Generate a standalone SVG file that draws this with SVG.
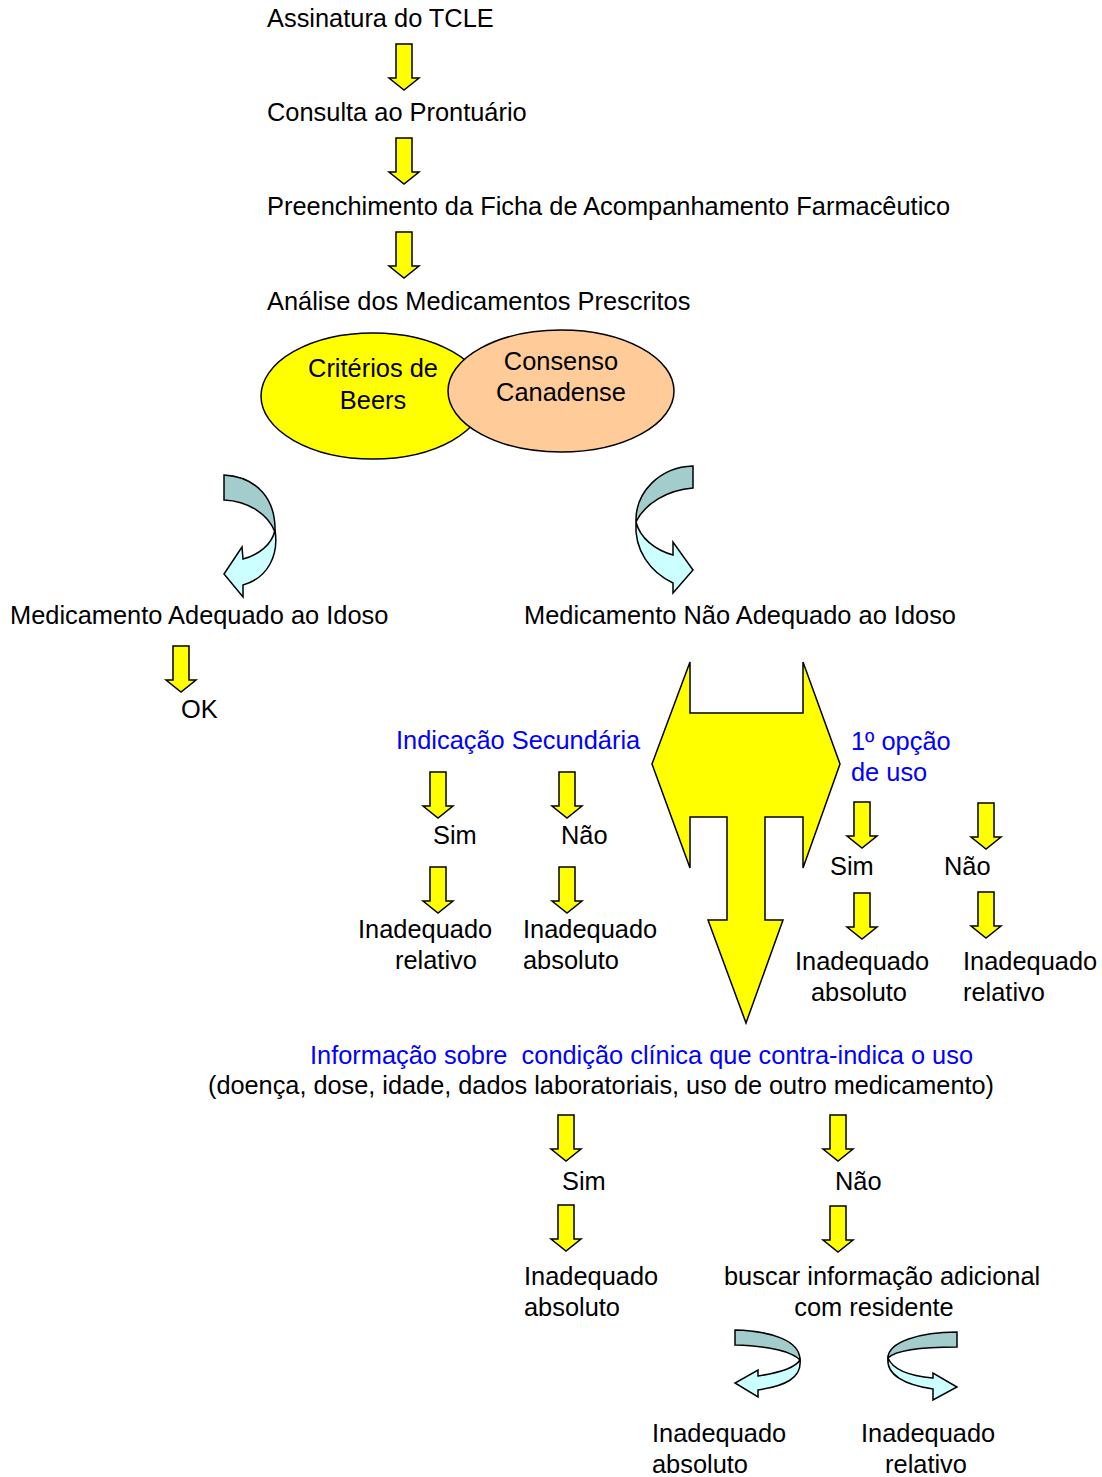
<svg xmlns="http://www.w3.org/2000/svg" xmlns:xlink="http://www.w3.org/1999/xlink" width="1102" height="1477" viewBox="0 0 1102 1477">
<style>
text{font-family:"Liberation Sans",Arial,sans-serif;font-size:25.4px;fill:#000}
.b{fill:#0000FF}
.c{text-anchor:middle}
.y{fill:#FFFF00;stroke:#000;stroke-width:1.5;stroke-linejoin:miter}
.dk{fill:#A3CCCC;stroke:#000;stroke-width:1.5}
.lt{fill:#CCFFFF;stroke:#000;stroke-width:1.5}
</style>
<defs>
<path id="dn" class="y" d="M-8,0 H8 V34 H15 L0,46 L-15,34 H-8 Z"/>
</defs>
<rect width="1102" height="1477" fill="#fff"/>
<g id="connectors">
<use xlink:href="#dn" href="#dn" x="404" y="44"/>
<use xlink:href="#dn" href="#dn" x="404" y="138"/>
<use xlink:href="#dn" href="#dn" x="404" y="232"/>
<path class="dk" d="M224,475 C258,477 276,500 275,532 C268,514 248,501 224,500 Z"/>
<path class="lt" d="M275,530 C279,555 268,578 243,585 L243,597 L224,574 L242,547 L243,559 C258,555 272,545 275,530 Z"/>
<path class="dk" d="M693,466 C660,467 635,492 636,522 C645,503 668,490 693,488 Z"/>
<path class="lt" d="M636,522 C634,550 650,572 673,583 L673,593 L693,570 L673,542 L673,555 C655,550 640,538 636,522 Z"/>
<use xlink:href="#dn" href="#dn" x="181" y="646"/>
<path class="y" d="M690,662 V713 H803 V662 L840,764 L803,868 V817 H765 V920 H783 L746,1023 L708,920 H727 V817 H690 V868 L652,764 Z"/>
<use xlink:href="#dn" href="#dn" x="438" y="772"/>
<use xlink:href="#dn" href="#dn" x="567" y="772"/>
<use xlink:href="#dn" href="#dn" x="438" y="867"/>
<use xlink:href="#dn" href="#dn" x="567" y="867"/>
<use xlink:href="#dn" href="#dn" x="862" y="802"/>
<use xlink:href="#dn" href="#dn" x="986" y="803"/>
<use xlink:href="#dn" href="#dn" x="862" y="893"/>
<use xlink:href="#dn" href="#dn" x="986" y="892"/>
<use xlink:href="#dn" href="#dn" x="566" y="1115"/>
<use xlink:href="#dn" href="#dn" x="838" y="1115"/>
<use xlink:href="#dn" href="#dn" x="566" y="1205"/>
<use xlink:href="#dn" href="#dn" x="838" y="1206"/>
<path class="dk" d="M735,1330 C770,1331 800,1340 800,1360 C792,1352 770,1346 735,1345 Z"/>
<path class="lt" d="M800,1360 C802,1378 785,1386 758,1390 L758,1397 L735,1383 L758,1370 L758,1376 C778,1373 795,1368 800,1360 Z"/>
<path class="dk" d="M957,1332 C920,1332 888,1342 888,1358 C896,1350 920,1347 957,1347 Z"/>
<path class="lt" d="M888,1358 C886,1375 905,1385 933,1389 L933,1400 L957,1387 L933,1373 L933,1378 C910,1376 893,1370 888,1358 Z"/>
</g>
<g id="n-tcle"><text x="267" y="27">Assinatura do TCLE</text></g>
<g id="n-prontuario"><text x="267" y="121">Consulta ao Prontuário</text></g>
<g id="n-ficha"><text x="267" y="215">Preenchimento da Ficha de Acompanhamento Farmacêutico</text></g>
<g id="n-analise"><text x="267" y="310">Análise dos Medicamentos Prescritos</text></g>
<g id="n-beers">
<ellipse cx="373" cy="396" rx="112" ry="63" fill="#FFFF00" stroke="#000" stroke-width="1.5"/>
<text class="c" x="373" y="377">Critérios de</text>
<text class="c" x="373" y="409">Beers</text>
</g>
<g id="n-canadense">
<ellipse cx="561" cy="391" rx="113" ry="61" fill="#FFCC99" stroke="#000" stroke-width="1.5"/>
<text class="c" x="561" y="370">Consenso</text>
<text class="c" x="561" y="401">Canadense</text>
</g>
<g id="n-adequado"><text x="10" y="624">Medicamento Adequado ao Idoso</text></g>
<g id="n-nao-adequado"><text x="524" y="624">Medicamento Não Adequado ao Idoso</text></g>
<g id="n-ok"><text x="181" y="718">OK</text></g>
<g id="n-indicacao"><text class="b" x="396" y="749">Indicação Secundária</text></g>
<g id="n-sim1"><text x="433" y="844">Sim</text></g>
<g id="n-nao1"><text x="561" y="844">Não</text></g>
<g id="n-inrel1"><text x="358" y="938">Inadequado</text><text x="395" y="969">relativo</text></g>
<g id="n-inabs1"><text x="523" y="938">Inadequado</text><text x="523" y="969">absoluto</text></g>
<g id="n-opcao"><text class="b" x="851" y="750">1º opção</text><text class="b" x="851" y="781">de uso</text></g>
<g id="n-sim2"><text x="830" y="875">Sim</text></g>
<g id="n-nao2"><text x="944" y="875">Não</text></g>
<g id="n-inabs2"><text x="795" y="970">Inadequado</text><text x="811" y="1001">absoluto</text></g>
<g id="n-inrel2"><text x="963" y="970">Inadequado</text><text x="963" y="1001">relativo</text></g>
<g id="n-informacao">
<text class="b" x="310" y="1064" textLength="663" lengthAdjust="spacingAndGlyphs" xml:space="preserve">Informação sobre  condição clínica que contra-indica o uso</text>
<text x="208" y="1094" textLength="786" lengthAdjust="spacingAndGlyphs">(doença, dose, idade, dados laboratoriais, uso de outro medicamento)</text>
</g>
<g id="n-sim3"><text x="562" y="1190">Sim</text></g>
<g id="n-nao3"><text x="835" y="1190">Não</text></g>
<g id="n-inabs3"><text x="524" y="1285">Inadequado</text><text x="524" y="1316">absoluto</text></g>
<g id="n-buscar"><text x="724" y="1285">buscar informação adicional</text><text class="c" x="874" y="1316">com residente</text></g>
<g id="n-inabs4"><text x="652" y="1442">Inadequado</text><text x="652" y="1473">absoluto</text></g>
<g id="n-inrel4"><text x="861" y="1442">Inadequado</text><text class="c" x="926" y="1473">relativo</text></g>
</svg>
